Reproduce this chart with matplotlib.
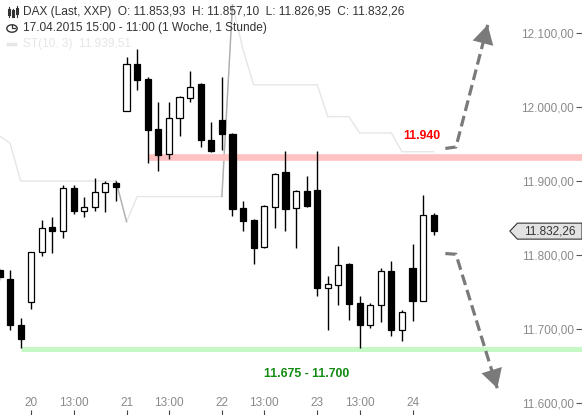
import numpy as np
import matplotlib
matplotlib.use("Agg")
import matplotlib.pyplot as plt
import matplotlib.transforms as mtransforms
from matplotlib.patches import Polygon, Circle
from matplotlib.lines import Line2D

plt.rcParams['font.family'] = ['Liberation Sans', 'DejaVu Sans']

# hourly DAX candles, 17.04.2015 15:00 (index -1) ... 24.04.2015 11:00 (index 40)
idx = list(range(-1, 41))
opens = [11780, 11768, 11705, 11736, 11804, 11838, 11833, 11890, 11859, 11865, 11885, 11897,
         11994, 12058, 12038, 11970, 11936, 11985, 12012, 12031, 11955, 11983,
         11964, 11863, 11847, 11811, 11865, 11912, 11863, 11887, 11888,
         11756, 11759, 11788, 11735, 11705, 11733, 11778, 11698, 11783, 11738, 11853.93]
closes = [11770, 11705, 11687, 11804, 11837, 11833, 11890, 11859, 11865, 11885, 11897, 11892,
          12058, 12037, 11969, 11935, 11985, 12013, 12027, 11955, 11940, 11963,
          11862, 11846, 11810, 11866, 11910, 11862, 11887, 11866, 11756,
          11761, 11787, 11734, 11705, 11733, 11778, 11698, 11723, 11738, 11854, 11832.26]
highs = [11783, 11780, 11715, 11804, 11847, 11851, 11894, 11894, 11878, 11904, 11900, 11900,
         12068, 12078, 12040, 12007, 12007, 12015, 12049, 12032, 11980, 12040,
         11965, 11873, 11848, 11867, 11911, 11941, 11888, 11907, 11941,
         11772, 11812, 11789, 11745, 11735, 11783, 11792, 11726, 11815, 11881, 11857.10]
lows = [11766, 11699, 11675, 11727, 11798, 11803, 11823, 11855, 11852, 11860, 11858, 11873,
        11994, 12023, 11925, 11914, 11930, 11961, 12007, 11946, 11939, 11942,
        11853, 11832, 11788, 11810, 11837, 11832, 11810, 11865, 11745,
        11699, 11732, 11712, 11675, 11702, 11709, 11691, 11684, 11711, 11738, 11826.95]

# SuperTrend ST(10, 3)
supertrend = [11961, 11951] + [11900] * 10 + [11845] + [11879] * 9 + [12138, 12077] \
    + [12030] * 7 + [11987] * 3 + [11965] * 4 + [11939.51] * 4

tick_pos = [2, 6, 11, 15, 20, 24, 29, 33, 38]
tick_labels = ['20', '13:00', '21', '13:00', '22', '13:00', '23', '13:00', '24']
price_ticks = [11600, 11700, 11800, 11900, 12000, 12100]

resistance = 11932      # drawn band, labelled 11.940
resistance_start = 13
support = 11673         # drawn band, labelled 11.675 - 11.700
support_start = 1

# scenario arrows (index, price)
up_path = [(41.1, 11944), (42.1, 11946), (45.1, 12111)]
down_path = [(41.1, 11802), (42.1, 11801), (46.0, 11620)]


def de_fmt(v):
    return f"{v:,.2f}".replace(',', 'X').replace('.', ',').replace('X', '.')


W, H = 582, 415
fig = plt.figure(figsize=(W / 100, H / 100), dpi=100)
ax = fig.add_axes([0, 0, 1, 1])
ax.set_xlim(-0.95, 54.0)
ax.set_ylim(11583.8, 12144.6)
for s in ax.spines.values():
    s.set_visible(False)

# -----------------------------
# supertrend line
# -----------------------------
ax.plot(idx, supertrend, color='#e6e6e6', lw=1.0, zorder=1)
for a in (10, 20):
    i = a + 1
    ax.plot(idx[i:i + 2], supertrend[i:i + 2], color='#b0b0b0', lw=1.0, zorder=1)

# -----------------------------
# support / resistance bands
# -----------------------------
ax.hlines(resistance, resistance_start, 60, color='#ffc2c2', lw=4.8, zorder=2)
ax.hlines(support, support_start, 60, color='#c6f8c6', lw=3.6, zorder=2)

# -----------------------------
# candles
# -----------------------------
o = np.array(opens)
c = np.array(closes)
ax.vlines(idx, lows, highs, color='black', lw=1.0, zorder=3)
colors = ['white' if cc >= oo else 'black' for oo, cc in zip(o, c)]
ax.bar(idx, np.maximum(np.abs(c - o), 1.5), bottom=np.minimum(o, c), width=0.58,
       color=colors, edgecolor='black', linewidth=0.9, zorder=4)

# -----------------------------
# scenario arrows
# -----------------------------
for path in (up_path, down_path):
    xs, ys = zip(*path)
    ax.plot(xs, ys, color='#7a7a7a', lw=2.3, dashes=(3.4, 1.6), zorder=5,
            solid_capstyle='butt', dash_capstyle='butt')
    tip = path[-1]
    back = (tip[0] - 0.12 * (tip[0] - path[-2][0]), tip[1] - 0.12 * (tip[1] - path[-2][1]))
    ax.annotate('', xy=tip, xytext=back,
                arrowprops=dict(arrowstyle='-|>,head_length=0.8,head_width=0.45',
                                mutation_scale=17, color='#7a7a7a', lw=0, shrinkA=0, shrinkB=0),
                zorder=6)

ax.text(38.9, 11961, '11.940', color='#ff0000', fontsize=8.8, fontweight='bold',
        ha='center', va='center')
ax.text(28.0, 11639, '11.675 - 11.700', color='#108a10', fontsize=8.8, fontweight='bold',
        ha='center', va='center')

# -----------------------------
# axes ticks inside the chart
# -----------------------------
ax.set_xticks(tick_pos)
ax.set_xticklabels(tick_labels)
ax.tick_params(axis='x', direction='in', length=3.5, width=0.8, color='#444',
               pad=-6.5, labelsize=8.5, labelcolor='#8a8a8a')
for lab in ax.get_xticklabels():
    lab.set_verticalalignment('baseline')

ax.yaxis.tick_right()
ax.set_yticks(price_ticks)
ax.set_yticklabels([de_fmt(v) for v in price_ticks])
ax.tick_params(axis='y', direction='in', length=4, width=0.8, color='#555',
               pad=-5.6, labelsize=8.5, labelcolor='#8a8a8a')
for lab in ax.get_yticklabels():
    lab.set_horizontalalignment('right')

# last price marker
last = closes[-1]
bt = mtransforms.blended_transform_factory(ax.transAxes, ax.transData)
hh = 10.8
ax.add_patch(Polygon([(0.876, last), (0.889, last + hh), (1.0, last + hh),
                      (1.0, last - hh), (0.889, last - hh)], closed=True,
                     transform=bt, facecolor='#e2e2e2', edgecolor='#333333', lw=0.8,
                     zorder=7, clip_on=False))
ax.text(0.989, last, de_fmt(last), transform=bt, ha='right', va='center',
        fontsize=8.5, color='#333333', zorder=8)

# -----------------------------
# header
# -----------------------------
def fx(px):
    return px / W


def fy(py):
    return 1 - py / H


fig.text(fx(23), fy(12.5), 'DAX (Last, XXP)  O: 11.853,93  H: 11.857,10  L: 11.826,95  C: 11.832,26',
         fontsize=8.6, color='#333333', va='center')
fig.text(fx(23), fy(28.5), '17.04.2015 15:00 - 11:00 (1 Woche, 1 Stunde)',
         fontsize=8.6, color='#333333', va='center')
fig.text(fx(23), fy(44.5), 'ST(10, 3)  11.939,51', fontsize=8.6, color='#e6e6e6', va='center')
fig.add_artist(Line2D([fx(8), fx(15)], [fy(44.5), fy(44.5)], color='#e6e6e6', lw=2.5))

# small candle icon
for cx, top, bot, b1, b2 in [(8.5, 7, 17, 10, 14), (12.5, 9, 17, 11, 16), (16.5, 6, 17, 9, 13)]:
    fig.add_artist(Line2D([fx(cx), fx(cx)], [fy(top), fy(bot)], color='#333333', lw=0.8))
    fig.add_artist(Line2D([fx(cx), fx(cx)], [fy(b1), fy(b2)], color='#333333', lw=2.2))

# clock icon
fig.add_artist(Circle((fx(12), fy(28.5)), 5.2 / W, transform=fig.transFigure,
                      fill=False, ec='#333333', lw=1.0))
fig.add_artist(Line2D([fx(12), fx(12), fx(15)], [fy(25), fy(28.5), fy(28.5)],
                      color='#333333', lw=0.9))

fig.savefig('out.png', dpi=100)
